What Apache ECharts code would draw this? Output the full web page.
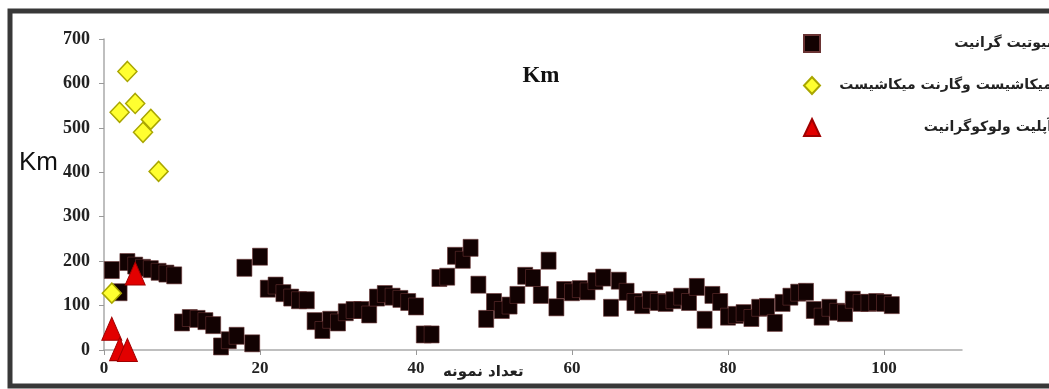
<!DOCTYPE html>
<html>
<head>
<meta charset="utf-8">
<script src="https://cdn.jsdelivr.net/npm/echarts@6/dist/echarts.min.js"></script>
<style>
  html, body { margin: 0; padding: 0; background: #fff; }
  #chart { width: 1049px; height: 389px; }
</style>
</head>
<body>
<div id="chart"></div>
<script>
// سری‌ها
var seriesNames = ['بیوتیت گرانیت', 'میکاشیست وگارنت میکاشیست', 'آپلیت ولوکوگرانیت']

// بیوتیت گرانیت: شماره نمونه 1..101
var graniteValues = [
  180, 130, 198, 190, 185, 182, 176, 172, 168, 62,
  72, 70, 65, 56, 8, 22, 32, 185, 15, 210,
  138, 145, 128, 118, 112, 112, 65, 45, 68, 62,
  85, 90, 90, 80, 118, 126, 120, 115, 108, 98,
  35, 35, 162, 165, 212, 203, 230, 147, 70, 108,
  90, 100, 124, 167, 162, 124, 201, 96, 135, 130,
  137, 132, 155, 163, 95, 156, 131, 108, 101, 113,
  108, 106, 112, 120, 108, 142, 68, 124, 108, 75,
  79, 83, 72, 95, 97, 61, 106, 120, 129, 131,
  90, 75, 95, 86, 83, 113, 106, 106, 108, 106,
  101
]

// میکاشیست
var schistX = [1, 2, 3, 4, 5, 6, 7]
var schistValues = [128, 535, 627, 555, 490, 519, 402]

// آپلیت
var apliteX = [1, 2, 3, 4]
var apliteValues = [48, 2, 0, 172]

var xTicks = [0, 20, 40, 60, 80, 100]

function pairs(xs, ys) {
  return ys.map(function(v, i) { return [xs[i], v] })
}

var graniteData = graniteValues.map(function(v, i) { return [i + 1, v] })

var myChart = echarts.init(document.getElementById('chart'))

var option = {
  backgroundColor: '#fff',
  animation: false,
  title: {
    text: 'Km',
    left: 536,
    top: 60,
    textAlign: 'center',
    textStyle: {
      fontFamily: 'Liberation Serif',
      fontWeight: 'bold',
      fontSize: 23,
      color: '#111'
    }
  },
  legend: {
    orient: 'vertical',
    left: 798,
    top: 29,
    itemWidth: 16,
    itemHeight: 17,
    itemGap: 23,
    data: seriesNames,
    formatter: function(name) {
      return '{t|' + name + '}'
    },
    textStyle: {
      rich: {
        t: {
          width: 227,
          align: 'right',
          fontFamily: 'DejaVu Sans',
          fontWeight: 'bold',
          fontSize: 14,
          color: '#222'
        }
      }
    }
  },
  grid: {
    left: 104,
    right: 87,
    top: 39,
    bottom: 39,
    containLabel: false
  },
  xAxis: {
    type: 'value',
    min: 0,
    max: 110,
    interval: 20,
    splitLine: { show: false },
    axisLine: { show: true, lineStyle: { color: '#aaa', width: 1.5 } },
    axisTick: {
      show: true,
      length: 5,
      customValues: xTicks,
      lineStyle: { color: '#999' }
    },
    axisLabel: {
      customValues: xTicks,
      margin: 10,
      fontFamily: 'Liberation Serif',
      fontWeight: 'bold',
      fontSize: 17,
      color: '#222'
    }
  },
  yAxis: {
    type: 'value',
    min: 0,
    max: 700,
    interval: 100,
    splitLine: { show: false },
    axisLine: { show: true, lineStyle: { color: '#aaa', width: 1.5 } },
    axisTick: { show: true, length: 5, lineStyle: { color: '#999' } },
    axisLabel: {
      margin: 14,
      fontFamily: 'Liberation Serif',
      fontWeight: 'bold',
      fontSize: 18,
      color: '#222'
    }
  },
  graphic: [
    {
      type: 'rect',
      shape: { x: 10, y: 11, width: 1100, height: 375 },
      style: { fill: 'none', stroke: '#383838', lineWidth: 5 },
      z: 100
    },
    {
      type: 'text',
      left: 19,
      top: 150,
      style: {
        text: 'Km',
        fontFamily: 'Liberation Sans',
        fontSize: 26,
        fill: '#111'
      }
    },
    {
      type: 'text',
      left: 443,
      top: 365,
      style: {
        text: 'تعداد نمونه',
        fontFamily: 'DejaVu Sans',
        fontWeight: 'bold',
        fontSize: 15,
        fill: '#222'
      }
    }
  ],
  series: [
    {
      name: seriesNames[0],
      type: 'scatter',
      symbol: 'rect',
      symbolSize: [15, 17],
      itemStyle: {
        color: '#120202',
        borderColor: '#6a3434',
        borderWidth: 0.6,
        opacity: 1
      },
      data: graniteData,
      z: 2
    },
    {
      name: seriesNames[1],
      type: 'scatter',
      symbol: 'diamond',
      symbolSize: [19, 20],
      itemStyle: {
        color: '#ffff30',
        borderColor: '#a9a600',
        borderWidth: 1.5,
        opacity: 1
      },
      data: pairs(schistX, schistValues),
      z: 3
    },
    {
      name: seriesNames[2],
      type: 'scatter',
      symbol: 'triangle',
      symbolSize: [20, 23],
      itemStyle: {
        color: '#e20000',
        borderColor: '#a00000',
        borderWidth: 1,
        opacity: 1
      },
      data: pairs(apliteX, apliteValues),
      z: 4
    }
  ]
}

myChart.setOption(option)
</script>
</body>
</html>
